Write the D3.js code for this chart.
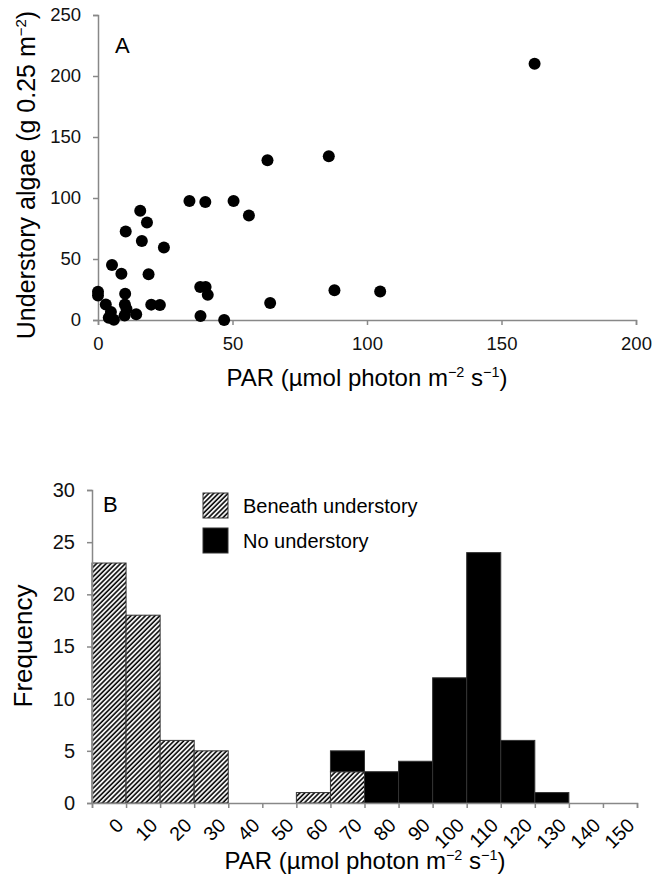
<!DOCTYPE html>
<html>
<head>
<meta charset="utf-8">
<script src="https://cdn.jsdelivr.net/npm/d3@7"></script>
<style>
  body { margin: 0; background: #fff; }
  svg { display: block; font-family: "Liberation Sans", Arial, sans-serif; }
  .axis path, .axis line { stroke: #888; stroke-width: 1.5; }
  .axis text { fill: #111; }
</style>
</head>
<body>
<div class="chart"></div>
<script>
// panel A: PAR vs understory algae
var parA = [162.3, 63, 85.8, 34.0, 39.9, 50.4, 56.1, 15.7, 18.2, 10.3, 16.3, 24.5, 5.2, 8.7, 18.8,
  0, 0, 10.1, 38.0, 40.0, 40.8, 87.9, 104.9, 64.0, 19.8, 23.0, 2.9, 10.0, 10.6, 14.2, 4.8, 4.0, 5.9, 9.9, 38.1, 46.9];
var algae = [210, 131, 134.3, 97.5, 96.8, 97.5, 85.6, 89.5, 79.9, 72.6, 64.8, 59.4, 45, 38, 37.5,
  23.2, 20, 21.6, 27, 27, 20.6, 24.4, 23.3, 14, 12.6, 12.2, 12.7, 12.8, 9, 4.8, 6.6, 1.9, 0.3, 3.6, 3.2, 0];
var ticksAx = [0, 50, 100, 150, 200];
var ticksAy = [0, 50, 100, 150, 200, 250];

// panel B: PAR frequency histogram
var binLabels = [0, 10, 20, 30, 40, 50, 60, 70, 80, 90, 100, 110, 120, 130, 140, 150];
var beneath = [23, 18, 6, 5, 0, 0, 1, 3, 0, 0, 0, 0, 0, 0, 0, 0];
var noUnder = [0, 0, 0, 0, 0, 0, 0, 2, 3, 4, 12, 24, 6, 1, 0, 0];
var ticksBy = [0, 5, 10, 15, 20, 25, 30];
var seriesNames = ["Beneath understory", "No understory"];

var W = 662, H = 878;
var svg = d3.select('.chart').append('svg').attr('width', W).attr('height', H);

// hatch pattern
var pat = svg.append('defs').append('pattern')
  .attr('id', 'hatch')
  .attr('patternUnits', 'userSpaceOnUse')
  .attr('width', 3.4).attr('height', 3.4)
  .attr('patternTransform', 'rotate(45)');
pat.append('rect').attr('width', 3.4).attr('height', 3.4).attr('fill', '#fff');
pat.append('line').attr('x1', 1).attr('y1', 0).attr('x2', 1).attr('y2', 3.4)
  .attr('stroke', '#000').attr('stroke-width', 1.6);

function parLabel(sel) {
  sel.append('tspan').text('PAR (µmol photon m');
  sel.append('tspan').attr('font-size', '0.6em').attr('dy', -9).text('−2');
  sel.append('tspan').attr('dy', 9).text(' s');
  sel.append('tspan').attr('font-size', '0.6em').attr('dy', -9).text('−1');
  sel.append('tspan').attr('dy', 9).text(')');
}

// ---------- panel A ----------
var xA = d3.scaleLinear().domain([0, 200]).range([98, 636]);
var yA = d3.scaleLinear().domain([0, 250]).range([320, 15]);

svg.append('g').attr('class', 'axis')
  .attr('transform', 'translate(0,' + yA(0) + ')')
  .call(d3.axisBottom(xA).tickValues(ticksAx).tickSize(5).tickSizeOuter(5).tickPadding(12))
  .selectAll('text').attr('font-size', 18.5);

svg.append('g').attr('class', 'axis')
  .attr('transform', 'translate(' + xA(0) + ',0)')
  .call(d3.axisLeft(yA).tickValues(ticksAy).tickSize(5).tickSizeOuter(5).tickPadding(12))
  .selectAll('text').attr('font-size', 18.5);

svg.selectAll('.dot')
  .data(parA.map(function(d, i) { return {x: d, y: algae[i]}; }))
  .enter()
  .append('circle')
  .attr('class', 'dot')
  .attr('cx', function(d) { return xA(d.x); })
  .attr('cy', function(d) { return yA(d.y); })
  .attr('r', 6)
  .attr('fill', '#000');

svg.append('text').attr('x', 115).attr('y', 53).attr('font-size', 22).text('A');

svg.append('text')
  .attr('x', 367).attr('y', 386)
  .attr('text-anchor', 'middle').attr('font-size', 24)
  .call(parLabel);

var ytA = svg.append('text')
  .attr('transform', 'translate(35,' + 175 + ') rotate(-90)')
  .attr('text-anchor', 'middle').attr('font-size', 25);
ytA.append('tspan').text('Understory algae (g 0.25 m');
ytA.append('tspan').attr('font-size', '0.6em').attr('dy', -9).text('−2');
ytA.append('tspan').attr('dy', 9).text(')');

// ---------- panel B ----------
var xB = d3.scaleBand().domain(binLabels).range([92, 637]).padding(0);
var xEdge = d3.scaleLinear().domain([0, 160]).range([92, 637]);
var yB = d3.scaleLinear().domain([0, 30]).range([803, 490]);

var table = binLabels.map(function(b, i) {
  return {bin: b, beneath: beneath[i], none: noUnder[i]};
});
var stacked = d3.stack().keys(['beneath', 'none'])(table);
var fills = ['url(#hatch)', '#000'];

svg.selectAll('.layer')
  .data(stacked)
  .enter()
  .append('g')
  .attr('class', 'layer')
  .attr('fill', function(d, i) { return fills[i]; })
  .selectAll('rect')
  .data(function(d) { return d.filter(function(v) { return v[1] > v[0]; }); })
  .enter()
  .append('rect')
  .attr('x', function(d) { return xB(d.data.bin); })
  .attr('y', function(d) { return yB(d[1]); })
  .attr('width', xB.bandwidth())
  .attr('height', function(d) { return yB(d[0]) - yB(d[1]); })
  .attr('stroke', '#333')
  .attr('stroke-width', 1);

svg.append('g').attr('class', 'axis')
  .attr('transform', 'translate(0,' + yB(0) + ')')
  .call(d3.axisBottom(xEdge).tickValues(d3.range(0, 161, 10)).tickSize(5).tickSizeOuter(5).tickFormat(''));

svg.append('g')
  .selectAll('text')
  .data(binLabels)
  .enter()
  .append('text')
  .attr('transform', function(d) {
    return 'translate(' + (xB(d) + xB.bandwidth() / 2 + 6) + ',817) rotate(-45)';
  })
  .attr('text-anchor', 'end')
  .attr('font-size', 19.5)
  .attr('dy', '0.7em')
  .text(function(d) { return d; });

svg.append('g').attr('class', 'axis')
  .attr('transform', 'translate(' + xB.range()[0] + ',0)')
  .call(d3.axisLeft(yB).tickValues(ticksBy).tickSize(5).tickSizeOuter(5).tickPadding(12))
  .selectAll('text').attr('font-size', 20);

svg.append('text').attr('x', 103).attr('y', 512).attr('font-size', 22).text('B');

svg.append('text')
  .attr('x', 365).attr('y', 869)
  .attr('text-anchor', 'middle').attr('font-size', 24)
  .call(parLabel);

svg.append('text')
  .attr('transform', 'translate(32,' + 646 + ') rotate(-90)')
  .attr('text-anchor', 'middle').attr('font-size', 26)
  .text('Frequency');

// legend
var legend = svg.append('g').selectAll('g')
  .data(seriesNames)
  .enter()
  .append('g')
  .attr('transform', function(d, i) { return 'translate(203,' + (493 + i * 35) + ')'; });
legend.append('rect')
  .attr('width', 25).attr('height', 25)
  .attr('fill', function(d, i) { return fills[i]; })
  .attr('stroke', '#333').attr('stroke-width', 1);
legend.append('text')
  .attr('x', 40).attr('y', 20)
  .attr('font-size', 20)
  .text(function(d) { return d; });
</script>
</body>
</html>
